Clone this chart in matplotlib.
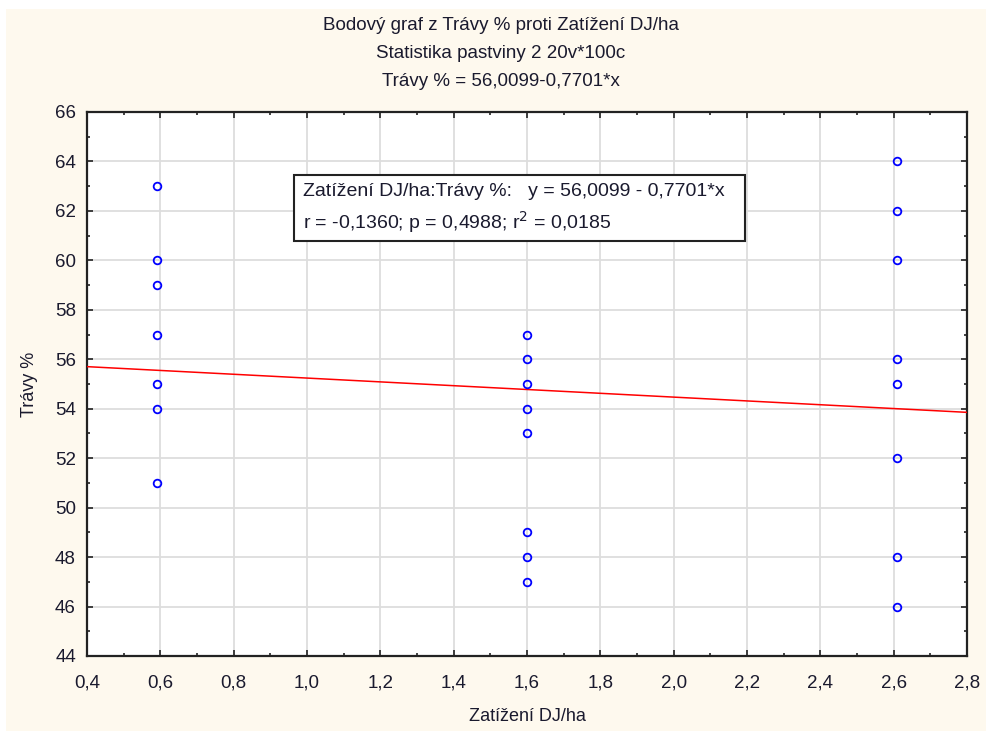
import matplotlib.pyplot as plt
from matplotlib.ticker import MultipleLocator, FuncFormatter
from matplotlib.patches import Rectangle

# data
x_left = [0.59] * 7
y_left = [63, 60, 59, 57, 55, 54, 51]
x_mid = [1.6] * 8
y_mid = [57, 56, 55, 54, 53, 49, 48, 47]
x_right = [2.61] * 8
y_right = [64, 62, 60, 56, 55, 52, 48, 46]

intercept = 56.0099
slope = -0.7701
x_range = [0.4, 2.8]

title_lines = ["Bodový graf z Trávy % proti Zatížení DJ/ha",
               "Statistika pastviny 2 20v*100c",
               "Trávy % = 56,0099-0,7701*x"]
box_lines = ["Zatížení DJ/ha:Trávy %:   y = 56,0099 - 0,7701*x",
             "r = -0,1360; p = 0,4988; r$^2$ = 0,0185"]

plt.rcParams['font.family'] = ['Liberation Sans', 'DejaVu Sans']
txt_color = '#1a1a2e'

fig = plt.figure(figsize=(9.87, 7.31), dpi=100)
fig.patch.set_facecolor('white')
# cream panel behind everything
fig.patches.append(Rectangle((6 / 987, 0), 1, 1 - 9 / 731, transform=fig.transFigure,
                             facecolor='#FEF9EE', edgecolor='none', zorder=-10))

ax = fig.add_axes([87 / 987, 1 - 656 / 731, 880 / 987, 544 / 731])
ax.set_facecolor('white')

xs = x_left + x_mid + x_right
ys = y_left + y_mid + y_right
ax.plot(xs, ys, 'o', linestyle='none', markersize=5.5, markerfacecolor='none',
        markeredgecolor='#0000FF', markeredgewidth=1.3, zorder=4)

line_y = [intercept + slope * v for v in x_range]
ax.plot(x_range, line_y, color='#FF0000', linewidth=1.1, zorder=3)

ax.set_xlim(0.4, 2.8)
ax.set_ylim(44, 66)
ax.xaxis.set_major_locator(MultipleLocator(0.2))
ax.xaxis.set_minor_locator(MultipleLocator(0.1))
ax.yaxis.set_major_locator(MultipleLocator(2))
ax.yaxis.set_minor_locator(MultipleLocator(1))
ax.xaxis.set_major_formatter(FuncFormatter(lambda v, p: f'{v:.1f}'.replace('.', ',')))
ax.yaxis.set_major_formatter(FuncFormatter(lambda v, p: f'{v:.0f}'))
ax.tick_params(which='both', direction='in', top=True, right=True,
               colors='#222222', labelcolor=txt_color, labelsize=13.5)
ax.tick_params(which='major', length=4, width=1.2)
ax.tick_params(which='minor', length=2, width=1.2)
ax.tick_params(axis='x', pad=13)
ax.tick_params(axis='y', pad=8)
ax.grid(True, which='major', color='#DDDDDD', linewidth=1.3)
ax.set_axisbelow(True)
for s in ax.spines.values():
    s.set_color('#222222')
    s.set_linewidth(1.6)

ax.set_xlabel('Zatížení DJ/ha', fontsize=13, labelpad=12, color=txt_color)
ax.set_ylabel('Trávy %', fontsize=13, labelpad=12, color=txt_color)

for i, t in enumerate(title_lines):
    fig.text(501 / 987, 1 - (25 + 28.5 * i) / 731, t, ha='center', va='center',
             fontsize=13.5, color=txt_color)

# statistics box
box = Rectangle((294 / 987, 1 - 241 / 731), 451 / 987, 66 / 731, transform=fig.transFigure,
                facecolor='white', edgecolor='#222222', linewidth=1.5, zorder=5)
fig.patches.append(box)
for i, t in enumerate(box_lines):
    fig.text(303 / 987, 1 - (191 + 31 * i) / 731, t, ha='left', va='center',
             fontsize=14, color=txt_color, zorder=6)

fig.savefig('out.png', dpi=100)
